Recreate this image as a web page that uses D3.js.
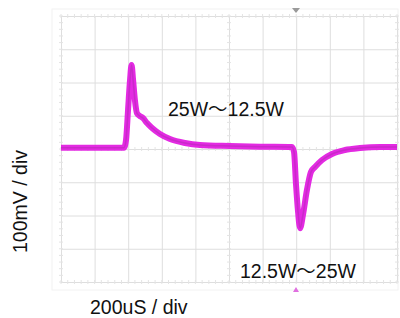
<!DOCTYPE html>
<html>
<head>
<meta charset="utf-8">
<script src="https://cdn.jsdelivr.net/npm/d3@7"></script>
<style>
  html, body { margin: 0; padding: 0; background: #fff; }
  svg { display: block; }
  text { font-family: "Liberation Sans", Arial, "Noto Sans CJK JP", sans-serif; fill: #111; }
</style>
</head>
<body>
<svg width="400" height="318"></svg>
<script>
// time in uS, voltage in mV (200uS/div, 100mV/div)
const timeUs = [0, 375, 387, 399, 411, 420, 429, 440, 452, 470, 488, 512, 542, 589, 649, 738, 827, 1006, 1185,
  1375, 1387, 1399, 1411, 1423, 1440, 1464, 1488, 1512, 1554, 1613, 1690, 1780, 1899, 2000];
const voltMv = [4, 4, 27, 117, 208, 253, 208, 147, 108, 99, 93, 78, 63, 45, 30, 18, 12, 9, 7,
  6, -9, -108, -189, -238, -199, -123, -69, -54, -33, -15, -3, 3, 6, 6];
const xDomain = [0, 2000];
const yDomain = [-400, 400];
const labels = ["25W～12.5W", "12.5W～25W"];

const svg = d3.select("svg");
const plotL = 61, plotR = 397, plotT = 16, plotB = 282;

const x = d3.scaleLinear().domain(xDomain).range([plotL, plotR]);
const y = d3.scaleLinear().domain(yDomain).range([plotB, plotT]);

// faint scan frame
svg.append("rect")
  .attr("x", 52).attr("y", 9).attr("width", 346).attr("height", 281)
  .attr("fill", "none").attr("stroke", "#f2f2f2");

// --- grid via axes ---
const gridColor = "#dedede";
const gx = svg.append("g").attr("transform", `translate(0,${plotB})`)
  .call(d3.axisBottom(x).tickValues(d3.range(0, 2001, 200)).tickSize(-(plotB - plotT)).tickFormat(""));
const gy = svg.append("g").attr("transform", `translate(${plotL},0)`)
  .call(d3.axisLeft(y).tickValues(d3.range(-400, 401, 100)).tickSize(-(plotR - plotL)).tickFormat(""));
[gx, gy].forEach(g => {
  g.select(".domain").remove();
  g.selectAll("line").attr("stroke", gridColor).attr("stroke-width", 1);
});

// minor ticks on border and center lines
const minor = svg.append("g").attr("stroke", "#e4e4e4");
const xm = d3.range(0, 2001, 40), ym = d3.range(-400, 401, 20);
[y(400), y(0), y(-400)].forEach(py => {
  minor.selectAll(null).data(xm).join("line")
    .attr("x1", d => x(d)).attr("x2", d => x(d))
    .attr("y1", py - 2).attr("y2", py + 2);
});
[x(0), x(1000), x(2000)].forEach(px => {
  minor.selectAll(null).data(ym).join("line")
    .attr("y1", d => y(d)).attr("y2", d => y(d))
    .attr("x1", px - 2).attr("x2", px + 2);
});

// trigger markers
svg.append("path").attr("d", "M292,8 L300,8 L296,13 Z").attr("fill", "#9a9a9a");
svg.append("path").attr("d", "M293,292 L299,292 L296,287 Z").attr("fill", "#e070e0");

// --- trace ---
const pts = timeUs.map((t, i) => [t, voltMv[i]]);
const line = d3.line().x(d => x(d[0])).y(d => y(d[1])).curve(d3.curveMonotoneX);
svg.append("path").datum(pts).attr("d", line)
  .attr("fill", "none").attr("stroke", "#e21fe0").attr("stroke-width", 6)
  .attr("stroke-linejoin", "round").attr("opacity", 0.95);
svg.append("path").datum(pts).attr("d", line)
  .attr("fill", "none").attr("stroke", "#b02ab0").attr("stroke-width", 1.5)
  .attr("stroke-linejoin", "round").attr("opacity", 0.5);

// --- text ---
svg.append("text").attr("x", 168).attr("y", 116).style("font-size", "19.5px").text(labels[0]);
svg.append("text").attr("x", 240).attr("y", 278).style("font-size", "19.5px").text(labels[1]);
svg.append("text").attr("x", 90).attr("y", 314).style("font-size", "19.5px").text("200uS / div");
svg.append("text").attr("transform", "translate(27,253) rotate(-90)").style("font-size", "19.5px").text("100mV / div");
</script>
</body>
</html>
